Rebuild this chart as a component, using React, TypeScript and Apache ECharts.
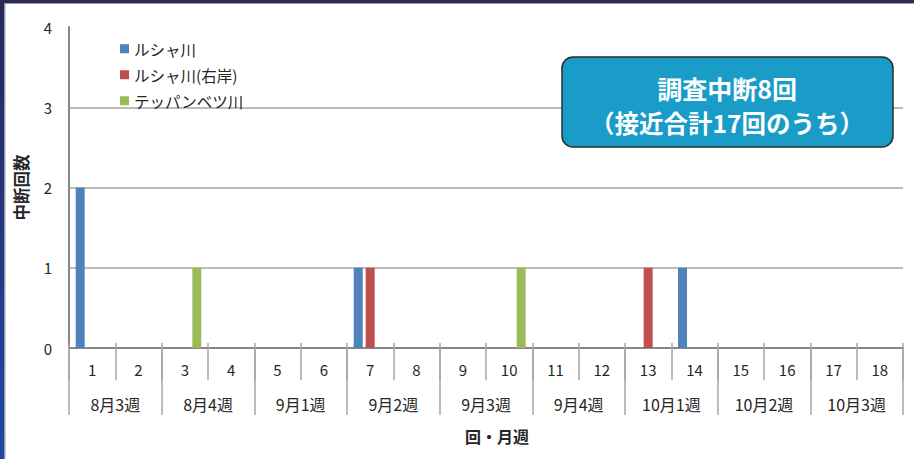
import React, { useEffect, useRef } from "react";
import * as echarts from "echarts";

const rounds = ["1","2","3","4","5","6","7","8","9","10","11","12","13","14","15","16","17","18"];
const weeks = ["8月3週","8月4週","9月1週","9月2週","9月3週","9月4週","10月1週","10月2週","10月3週"];
const yTicks = [0, 1, 2, 3, 4];
const seriesNames = ["ルシャ川", "ルシャ川(右岸)", "テッパンベツ川"];
const rushaValues = [2,0,0,0,0,0,1,0,0,0,0,0,0,1,0,0,0,0];
const rushaRightValues = [0,0,0,0,0,0,1,0,0,0,0,0,1,0,0,0,0,0];
const teppanValues = [0,0,1,0,0,0,0,0,0,1,0,0,0,0,0,0,0,0];
const calloutLines = ["調査中断8回", "（接近合計17回のうち）"];

const FONT = '"Noto Sans CJK JP", "Noto Sans", sans-serif';
const TXT = "#262626";

export default function App() {
  const ref = useRef<HTMLDivElement>(null);
  useEffect(() => {
    if (!ref.current) return;
    const chart = echarts.init(ref.current, null, { renderer: "svg" });
    const colors = ["#4f81bd", "#c0504d", "#9bbb59"];
    const data = [rushaValues, rushaRightValues, teppanValues];
    chart.setOption({
      animation: false,
      backgroundColor: "#ffffff",
      textStyle: { fontFamily: FONT },
      grid: { left: 69, right: 11, top: 27, bottom: 111, outerBoundsMode: "none", containLabel: false },
      legend: {
        orient: "vertical",
        left: 120,
        top: 41,
        padding: 0,
        itemWidth: 9,
        itemHeight: 9,
        itemGap: 10.5,
        icon: "rect",
        data: seriesNames,
        textStyle: { fontSize: 15.5, color: TXT, fontFamily: FONT },
      },
      xAxis: [
        {
          type: "category",
          data: rounds,
          position: "bottom",
          axisLine: { show: true, lineStyle: { color: "#868686", width: 2 } },
          axisTick: { show: true, length: 32, lineStyle: { color: "#a6a6a6", width: 1.5 } },
          axisLabel: { margin: 14, fontSize: 15, color: TXT, fontFamily: FONT },
        },
        {
          type: "category",
          data: weeks,
          position: "bottom",
          axisLine: { show: false },
          axisTick: { show: true, length: 67, lineStyle: { color: "#a6a6a6", width: 1.5 } },
          axisLabel: { margin: 48, fontSize: 16, color: TXT, fontFamily: FONT },
        },
        {
          type: "category",
          data: rounds,
          position: "bottom",
          axisLine: { show: false },
          axisTick: { show: true, inside: true, length: 5, lineStyle: { color: "#a6a6a6", width: 1.5 } },
          axisLabel: { show: false },
        },
      ],
      yAxis: {
        type: "value",
        min: yTicks[0],
        max: yTicks[yTicks.length - 1],
        interval: 1,
        name: "中断回数",
        nameLocation: "middle",
        nameGap: 40,
        nameTextStyle: { fontSize: 16.5, fontWeight: "bold", color: TXT, fontFamily: FONT },
        axisLine: { show: true, lineStyle: { color: "#868686", width: 2 } },
        axisTick: { show: false },
        axisLabel: { margin: 17, fontSize: 15, color: TXT, fontFamily: FONT },
        splitLine: {
          show: true,
          lineStyle: { color: ["#a6a6a6", "#a6a6a6", "#a6a6a6", "#a6a6a6", "rgba(0,0,0,0)"], width: 1.5 },
        },
      },
      series: seriesNames.map((name, i) => ({
        type: "bar",
        name,
        xAxisIndex: 0,
        data: data[i],
        barWidth: 9,
        barGap: "33%",
        itemStyle: { color: colors[i] },
      })),
      graphic: [
        {
          type: "rect",
          shape: { x: 0, y: 0, width: 4, height: 459 },
          style: {
            fill: new echarts.graphic.LinearGradient(0, 0, 0, 1, [
              { offset: 0, color: "#27275a" },
              { offset: 1, color: "#1e48a6" },
            ]),
          },
          z: 100,
        },
        { type: "rect", shape: { x: 4, y: 0, width: 1.5, height: 459 }, style: { fill: "#9a9ab0" }, z: 100 },
        { type: "rect", shape: { x: 0, y: 0, width: 914, height: 3 }, style: { fill: "#2b2b55" }, z: 101 },
        { type: "rect", shape: { x: 4, y: 3, width: 910, height: 1 }, style: { fill: "#9a9ab0" }, z: 100 },
        {
          type: "rect",
          shape: { x: 562, y: 57, width: 331, height: 90, r: 11 },
          style: { fill: "#1a9cc9", stroke: "#2b2b2b", lineWidth: 1.5 },
          z: 100,
        },
        {
          type: "text",
          x: 727,
          y: 88,
          style: {
            text: calloutLines[0],
            fill: "#ffffff",
            font: `bold 25px ${FONT}`,
            align: "center",
            verticalAlign: "middle",
          },
          z: 101,
        },
        {
          type: "text",
          x: 727,
          y: 122,
          style: {
            text: calloutLines[1],
            fill: "#ffffff",
            font: `bold 24.5px ${FONT}`,
            align: "center",
            verticalAlign: "middle",
          },
          z: 101,
        },
        {
          type: "text",
          x: 497,
          y: 436,
          style: {
            text: "回・月週",
            fill: TXT,
            font: `bold 16px ${FONT}`,
            align: "center",
            verticalAlign: "middle",
          },
          z: 101,
        },
      ],
    });
    return () => chart.dispose();
  }, []);
  return (
    <div
      ref={ref}
      style={{ position: "fixed", left: 0, top: 0, width: 914, height: 459, background: "#fff" }}
    />
  );
}
